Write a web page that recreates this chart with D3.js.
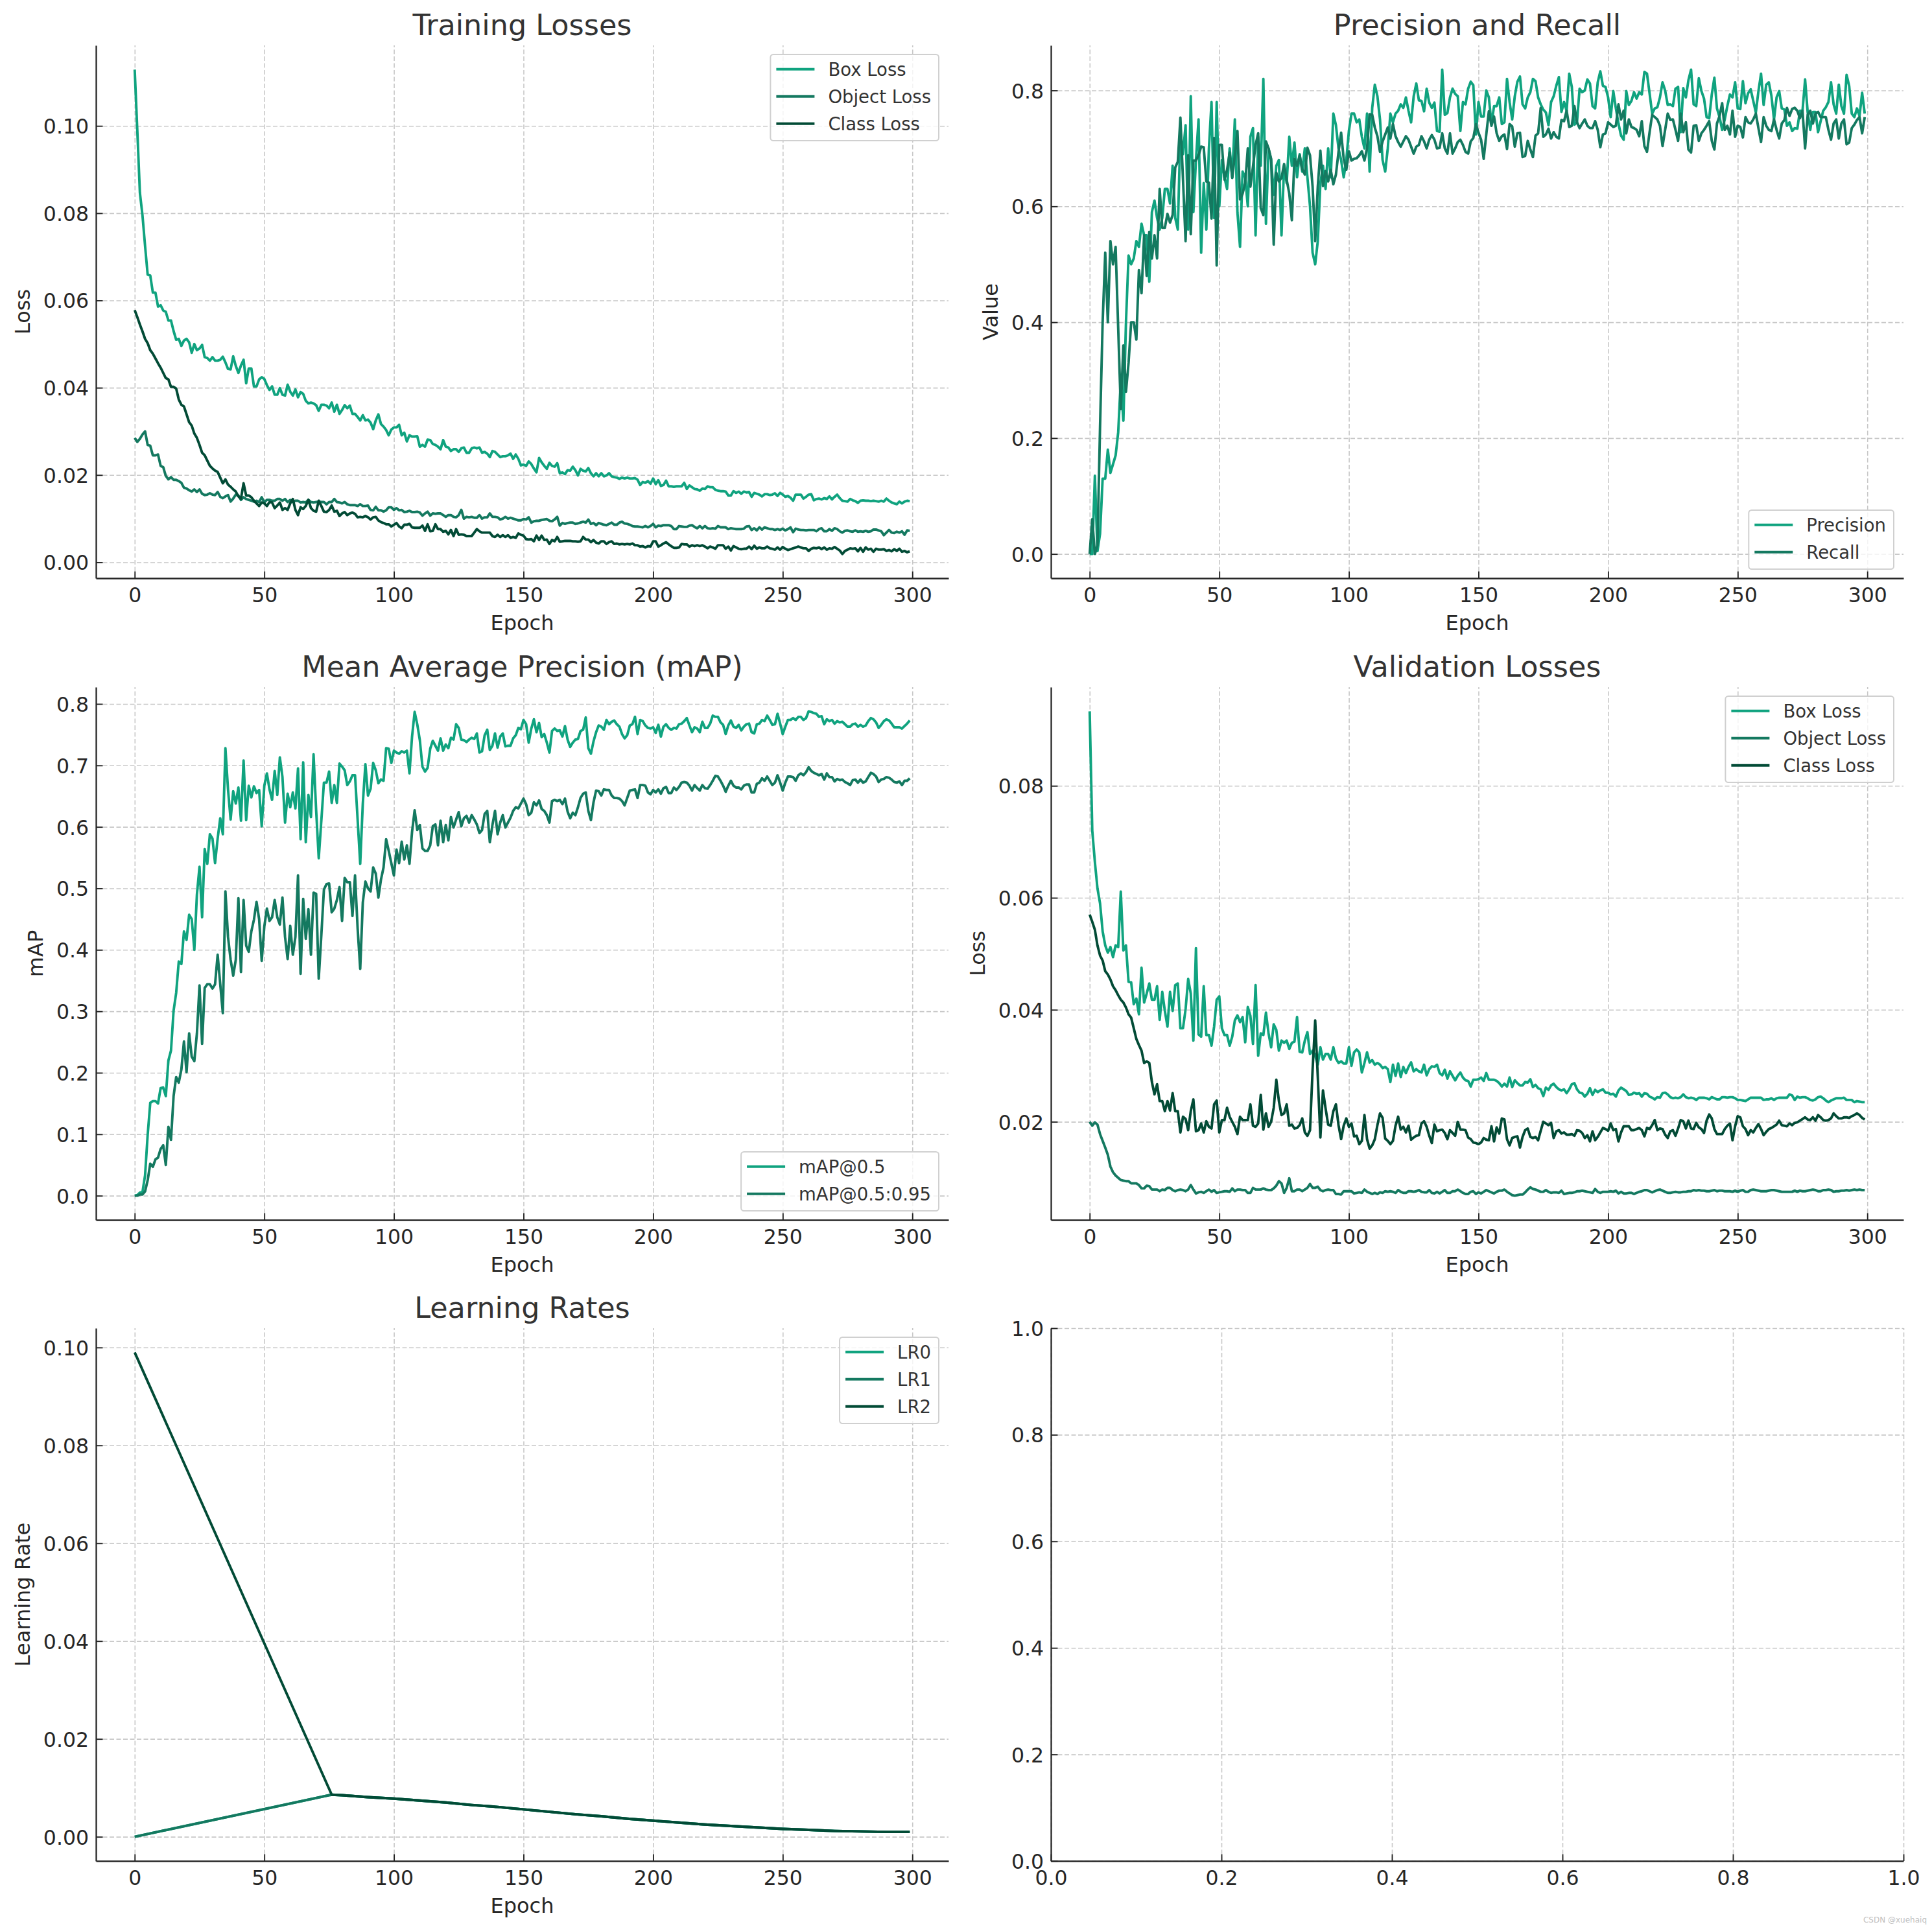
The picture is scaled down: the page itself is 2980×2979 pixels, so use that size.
<!DOCTYPE html>
<html><head><meta charset="utf-8">
<script src="https://cdn.jsdelivr.net/npm/d3@7"></script>
<style>html,body{margin:0;padding:0;background:#fff;} svg{display:block;}</style>
</head><body>
<svg id="chart" width="2980" height="2979" xmlns="http://www.w3.org/2000/svg"></svg>
<script>
// ---------------- DATA ----------------
const epochs = d3.range(0, 300);

const trainBoxLoss = [
0.1129,0.099,0.0847,0.0795,0.0725,0.0659,0.0657,0.0618,0.0618,0.0586,
0.0589,0.0577,0.0574,0.0554,0.0554,0.053,0.051,0.0512,0.0496,0.0508,
0.0512,0.0504,0.048,0.050,0.0486,0.049,0.0498,0.047,0.0468,0.0462,
0.047,0.0462,0.0462,0.0464,0.0471,0.0458,0.0443,0.0442,0.0472,0.045,
0.0434,0.0451,0.0464,0.041,0.0444,0.0444,0.0403,0.0403,0.0419,0.0424,
0.042,0.0406,0.0395,0.0403,0.0384,0.0384,0.0399,0.0384,0.0382,0.0407,
0.0391,0.0382,0.0396,0.0378,0.039,0.0386,0.037,0.0364,0.0366,0.0364,
0.036,0.0347,0.0361,0.0361,0.0359,0.0353,0.0366,0.0345,0.0361,0.034,
0.0349,0.036,0.0353,0.0359,0.034,0.034,0.0333,0.0325,0.0337,0.0325,
0.0327,0.032,0.0305,0.0325,0.0339,0.0317,0.0311,0.0303,0.0291,0.0304,
0.0309,0.0309,0.0315,0.0291,0.0297,0.0277,0.0291,0.0288,0.0288,0.0289,
0.0265,0.0269,0.0265,0.0281,0.028,0.0271,0.0269,0.0265,0.0259,0.028,
0.0265,0.0263,0.0255,0.0259,0.0259,0.0253,0.0261,0.0263,0.0251,0.0251,
0.0261,0.0263,0.0261,0.0263,0.0251,0.0253,0.0249,0.0241,0.0255,0.0253,
0.0247,0.0241,0.0243,0.0243,0.0245,0.0249,0.0237,0.0247,0.0237,0.0222,
0.0224,0.0221,0.0231,0.0225,0.0215,0.0206,0.0239,0.0229,0.0221,0.0214,
0.0228,0.0221,0.0219,0.0227,0.0204,0.0206,0.0202,0.0211,0.021,0.0219,
0.0211,0.0199,0.0214,0.021,0.0208,0.0216,0.0204,0.0197,0.0204,0.0197,
0.0204,0.0197,0.0199,0.0204,0.0197,0.0195,0.0194,0.0191,0.0194,0.0192,
0.0194,0.0192,0.0192,0.0193,0.0189,0.0177,0.0184,0.0182,0.0186,0.018,
0.0192,0.0179,0.0188,0.0175,0.0177,0.0187,0.0174,0.0174,0.0173,0.0174,
0.0174,0.0174,0.0182,0.0168,0.0176,0.0172,0.0168,0.0167,0.0164,0.0169,
0.0168,0.0174,0.0172,0.0172,0.0166,0.0164,0.0163,0.0163,0.0162,0.0153,
0.0153,0.0163,0.0159,0.0162,0.0157,0.0162,0.016,0.0161,0.015,0.0159,
0.0157,0.0155,0.0151,0.0156,0.0156,0.0154,0.0155,0.0158,0.0152,0.0159,
0.0155,0.015,0.0152,0.0148,0.0141,0.0155,0.0155,0.0155,0.0146,0.015,
0.0155,0.0156,0.0142,0.0145,0.0146,0.0144,0.0147,0.0145,0.0151,0.0144,
0.015,0.0155,0.0147,0.0141,0.014,0.0139,0.0145,0.0142,0.014,0.0136,
0.0141,0.0142,0.0141,0.0141,0.014,0.0141,0.014,0.0139,0.0141,0.0139,
0.0146,0.0141,0.0137,0.0135,0.0133,0.0139,0.0135,0.0139,0.0141,0.014];

const trainObjLoss = [
0.0285,0.0276,0.0283,0.0293,0.030,0.0269,0.0267,0.0245,0.0245,0.0247,
0.0221,0.0218,0.0198,0.019,0.0195,0.0189,0.0189,0.0186,0.0182,0.0171,
0.0169,0.0165,0.0162,0.0167,0.0161,0.0167,0.0157,0.0154,0.0155,0.0158,
0.0155,0.0154,0.0161,0.015,0.0147,0.0151,0.0154,0.0139,0.0146,0.0155,
0.0153,0.0143,0.0149,0.0145,0.0143,0.0141,0.0139,0.0141,0.0138,0.0149,
0.0137,0.0143,0.0143,0.0141,0.0141,0.0145,0.0145,0.0141,0.0145,0.0138,
0.0143,0.0138,0.0141,0.0141,0.0137,0.0138,0.0137,0.0143,0.0138,0.0137,
0.0138,0.0139,0.0138,0.0138,0.0133,0.0138,0.0138,0.0145,0.0138,0.0137,
0.0135,0.0138,0.0133,0.0131,0.0131,0.0131,0.0129,0.0133,0.0129,0.0129,
0.013,0.012,0.0119,0.0127,0.0119,0.0119,0.0116,0.0119,0.0126,0.0126,
0.012,0.0124,0.0119,0.012,0.0115,0.0116,0.0118,0.0115,0.0115,0.0116,
0.0114,0.0107,0.0112,0.0116,0.0107,0.0112,0.0111,0.0112,0.0112,0.0108,
0.0104,0.0108,0.0108,0.0104,0.0103,0.0108,0.012,0.01,0.0104,0.0103,
0.0104,0.0102,0.0102,0.0108,0.01,0.0103,0.0103,0.0112,0.0104,0.0104,
0.0103,0.0098,0.01,0.0104,0.01,0.0102,0.01,0.0098,0.0096,0.0096,
0.0099,0.0098,0.0103,0.0091,0.0094,0.0095,0.0095,0.0097,0.0098,0.0099,
0.0095,0.0094,0.0098,0.0104,0.0084,0.009,0.0088,0.009,0.0091,0.0091,
0.0088,0.0089,0.0091,0.0093,0.0091,0.0098,0.0088,0.009,0.0085,0.009,
0.0088,0.0086,0.0085,0.0088,0.0091,0.0086,0.0086,0.0091,0.0093,0.0089,
0.0088,0.0086,0.0083,0.0082,0.0082,0.0081,0.008,0.0083,0.008,0.0083,
0.0088,0.008,0.0084,0.0083,0.0085,0.0085,0.0085,0.0083,0.0076,0.0076,
0.0083,0.0082,0.0081,0.0081,0.0084,0.0085,0.0081,0.0078,0.0083,0.0078,
0.0083,0.0078,0.0077,0.0078,0.0077,0.0083,0.008,0.008,0.008,0.0076,
0.0078,0.0077,0.0076,0.0076,0.0076,0.0077,0.0082,0.0083,0.0074,0.0078,
0.0073,0.008,0.0075,0.008,0.0078,0.0076,0.0076,0.0074,0.0076,0.0074,
0.0077,0.0073,0.0076,0.008,0.0069,0.0077,0.0075,0.0074,0.0074,0.0073,
0.0074,0.0074,0.0074,0.0071,0.0076,0.0078,0.0071,0.0071,0.0076,0.0072,
0.0078,0.0076,0.0071,0.0068,0.0072,0.0073,0.0071,0.007,0.0073,0.007,
0.0071,0.007,0.0072,0.007,0.0071,0.0075,0.0075,0.0073,0.0071,0.0062,
0.0068,0.0074,0.0068,0.0067,0.007,0.0068,0.0071,0.0063,0.0073,0.0072];

const trainClsLoss = [
0.0578,0.0562,0.0545,0.0529,0.0512,0.0502,0.0486,0.0478,0.0467,0.0456,
0.0446,0.0434,0.0422,0.0419,0.0402,0.0402,0.0398,0.0373,0.0361,0.0357,
0.0339,0.0321,0.0313,0.0295,0.0285,0.0269,0.0251,0.0245,0.0233,0.0221,
0.0215,0.021,0.0207,0.0194,0.0181,0.019,0.0178,0.0173,0.0167,0.0162,
0.0151,0.0146,0.0181,0.0153,0.0153,0.0149,0.0141,0.0135,0.0129,0.0137,
0.0135,0.0129,0.0138,0.0137,0.0124,0.013,0.0137,0.012,0.0124,0.012,
0.0135,0.0145,0.012,0.0108,0.0126,0.0122,0.0129,0.0143,0.0124,0.0118,
0.0116,0.0141,0.0129,0.0116,0.0115,0.012,0.013,0.0116,0.0118,0.0106,
0.0112,0.0115,0.0108,0.0112,0.0114,0.0111,0.0103,0.0104,0.0103,0.0106,
0.0103,0.0098,0.0103,0.0104,0.0096,0.0092,0.009,0.0087,0.0087,0.0082,
0.0086,0.009,0.0082,0.0078,0.0086,0.0086,0.0088,0.008,0.0079,0.0079,
0.0079,0.0084,0.0072,0.0087,0.0071,0.0072,0.0087,0.0076,0.0076,0.007,
0.0072,0.0064,0.0074,0.006,0.0076,0.0063,0.0064,0.0063,0.006,0.006,
0.006,0.0068,0.0076,0.0071,0.0068,0.0068,0.0068,0.0068,0.006,0.0058,
0.0063,0.0058,0.0062,0.0058,0.0062,0.0056,0.0058,0.0056,0.0066,0.0063,
0.0061,0.0053,0.0052,0.0053,0.0048,0.0061,0.0051,0.0061,0.0051,0.0052,
0.0042,0.0051,0.0048,0.0058,0.0047,0.0048,0.0049,0.0049,0.0049,0.0048,
0.0048,0.0047,0.0048,0.0058,0.0052,0.0052,0.0046,0.0051,0.0045,0.0043,
0.0048,0.0048,0.0042,0.0046,0.0048,0.0042,0.0043,0.0041,0.0042,0.0041,
0.0042,0.0041,0.0043,0.0039,0.0039,0.0036,0.0037,0.0034,0.0037,0.0036,
0.0048,0.0048,0.0036,0.0039,0.0043,0.0046,0.0041,0.0037,0.0033,0.0033,
0.0034,0.0042,0.0041,0.0041,0.0036,0.0039,0.0037,0.0039,0.0037,0.0039,
0.0036,0.0032,0.0036,0.0034,0.0031,0.0039,0.0039,0.0039,0.0031,0.0036,
0.0027,0.0037,0.0034,0.0031,0.003,0.0031,0.0031,0.0036,0.003,0.0038,
0.0031,0.0034,0.0032,0.0032,0.0036,0.0032,0.0031,0.0029,0.0034,0.0029,
0.0035,0.0031,0.0028,0.003,0.0032,0.0034,0.0036,0.0034,0.0032,0.0032,
0.0026,0.0031,0.0033,0.0032,0.0034,0.003,0.0034,0.0029,0.0032,0.0031,
0.0035,0.0031,0.0027,0.0019,0.0026,0.0029,0.0032,0.0031,0.0032,0.0025,
0.0033,0.0024,0.0034,0.0029,0.0031,0.0024,0.0031,0.0029,0.0029,0.003,
0.0026,0.0028,0.0025,0.003,0.0026,0.0031,0.0024,0.0026,0.0023,0.0025];

const precision = [
0,0,0.135,0.005,0.035,0.13,0.13,0.18,0.14,0.155,
0.17,0.21,0.30,0.23,0.40,0.515,0.50,0.51,0.54,0.53,
0.57,0.55,0.55,0.47,0.59,0.61,0.58,0.56,0.58,0.63,
0.63,0.605,0.67,0.58,0.56,0.73,0.69,0.74,0.56,0.79,
0.59,0.68,0.75,0.52,0.64,0.56,0.70,0.78,0.58,0.78,
0.60,0.68,0.65,0.63,0.70,0.65,0.75,0.59,0.53,0.66,
0.65,0.60,0.72,0.735,0.55,0.72,0.67,0.82,0.57,0.70,
0.68,0.62,0.67,0.68,0.55,0.67,0.64,0.72,0.67,0.71,
0.65,0.69,0.66,0.70,0.65,0.60,0.52,0.50,0.54,0.64,
0.67,0.63,0.70,0.65,0.76,0.74,0.70,0.68,0.65,0.68,
0.73,0.76,0.76,0.745,0.75,0.72,0.70,0.76,0.66,0.77,
0.81,0.79,0.75,0.68,0.66,0.70,0.76,0.745,0.76,0.765,
0.776,0.77,0.788,0.765,0.745,0.79,0.812,0.783,0.782,0.764,
0.803,0.779,0.77,0.779,0.73,0.729,0.836,0.758,0.761,0.788,
0.803,0.794,0.79,0.73,0.78,0.776,0.803,0.815,0.809,0.724,
0.78,0.755,0.755,0.80,0.788,0.742,0.773,0.773,0.788,0.742,
0.745,0.82,0.78,0.75,0.79,0.815,0.824,0.776,0.769,0.788,
0.797,0.82,0.816,0.788,0.776,0.767,0.762,0.74,0.78,0.79,
0.808,0.823,0.763,0.78,0.765,0.829,0.806,0.741,0.745,0.803,
0.797,0.80,0.819,0.812,0.773,0.769,0.814,0.833,0.808,0.806,
0.788,0.754,0.799,0.769,0.743,0.722,0.715,0.799,0.775,0.782,
0.797,0.786,0.797,0.793,0.832,0.829,0.795,0.76,0.769,0.771,
0.788,0.814,0.80,0.775,0.776,0.773,0.803,0.806,0.728,0.804,
0.788,0.818,0.836,0.776,0.773,0.821,0.799,0.786,0.754,0.752,
0.793,0.822,0.769,0.754,0.732,0.75,0.773,0.793,0.788,0.814,
0.769,0.768,0.816,0.778,0.795,0.802,0.782,0.762,0.799,0.829,
0.775,0.81,0.814,0.791,0.75,0.788,0.799,0.769,0.767,0.739,
0.745,0.73,0.735,0.734,0.765,0.765,0.819,0.762,0.732,0.763,
0.763,0.728,0.747,0.765,0.771,0.78,0.814,0.776,0.76,0.81,
0.773,0.76,0.827,0.808,0.76,0.754,0.769,0.756,0.796,0.76];

const recall = [
0,0.06,0.0,0.015,0.22,0.40,0.52,0.40,0.54,0.50,
0.53,0.39,0.25,0.36,0.28,0.33,0.40,0.40,0.37,0.49,
0.45,0.55,0.48,0.556,0.51,0.55,0.51,0.63,0.563,0.563,
0.587,0.572,0.585,0.667,0.677,0.753,0.646,0.54,0.688,0.552,
0.679,0.679,0.688,0.703,0.702,0.643,0.641,0.579,0.718,0.498,
0.706,0.706,0.646,0.663,0.693,0.649,0.688,0.73,0.612,0.622,
0.64,0.70,0.634,0.669,0.706,0.726,0.597,0.585,0.712,0.70,
0.682,0.534,0.658,0.643,0.649,0.673,0.646,0.622,0.576,0.682,
0.67,0.688,0.664,0.655,0.701,0.688,0.634,0.54,0.634,0.696,
0.635,0.661,0.643,0.663,0.638,0.655,0.694,0.727,0.682,0.663,
0.695,0.679,0.682,0.683,0.688,0.695,0.679,0.70,0.759,0.758,
0.736,0.721,0.694,0.712,0.724,0.736,0.717,0.742,0.721,0.711,
0.703,0.712,0.721,0.715,0.703,0.691,0.703,0.706,0.721,0.712,
0.70,0.715,0.723,0.715,0.70,0.701,0.726,0.70,0.691,0.726,
0.691,0.70,0.711,0.715,0.706,0.694,0.691,0.712,0.718,0.742,
0.727,0.715,0.682,0.724,0.764,0.739,0.755,0.726,0.713,0.721,
0.724,0.699,0.742,0.738,0.703,0.726,0.727,0.685,0.687,0.713,
0.698,0.685,0.722,0.726,0.77,0.72,0.724,0.734,0.717,0.728,
0.72,0.717,0.749,0.747,0.765,0.737,0.739,0.773,0.745,0.735,
0.743,0.75,0.739,0.735,0.735,0.747,0.732,0.702,0.724,0.726,
0.745,0.741,0.737,0.739,0.776,0.75,0.765,0.726,0.75,0.737,
0.735,0.732,0.721,0.747,0.704,0.694,0.728,0.758,0.754,0.75,
0.739,0.704,0.732,0.76,0.749,0.75,0.732,0.713,0.76,0.728,
0.745,0.698,0.693,0.739,0.74,0.713,0.726,0.732,0.739,0.747,
0.713,0.698,0.743,0.756,0.778,0.732,0.739,0.724,0.765,0.72,
0.739,0.737,0.719,0.754,0.745,0.743,0.75,0.76,0.735,0.711,
0.754,0.739,0.732,0.73,0.75,0.732,0.717,0.743,0.749,0.77,
0.756,0.768,0.77,0.765,0.752,0.765,0.70,0.758,0.765,0.743,
0.76,0.763,0.754,0.754,0.754,0.732,0.715,0.743,0.75,0.717,
0.743,0.75,0.707,0.71,0.735,0.741,0.749,0.754,0.726,0.754];

const map50 = [
0,0.001,0.005,0.006,0.033,0.099,0.151,0.154,0.154,0.15,
0.175,0.176,0.162,0.22,0.236,0.301,0.33,0.381,0.377,0.43,
0.416,0.457,0.45,0.40,0.49,0.535,0.453,0.564,0.54,0.588,
0.581,0.541,0.581,0.614,0.588,0.728,0.661,0.612,0.658,0.638,
0.664,0.61,0.708,0.611,0.667,0.648,0.666,0.655,0.66,0.601,
0.667,0.687,0.661,0.644,0.691,0.652,0.713,0.681,0.607,0.654,
0.632,0.656,0.63,0.695,0.58,0.705,0.575,0.652,0.616,0.718,
0.627,0.549,0.61,0.672,0.672,0.69,0.639,0.668,0.639,0.703,
0.698,0.692,0.668,0.674,0.684,0.684,0.612,0.54,0.638,0.702,
0.651,0.662,0.704,0.692,0.671,0.677,0.675,0.728,0.727,0.704,
0.724,0.721,0.719,0.723,0.721,0.724,0.687,0.747,0.787,0.767,
0.741,0.698,0.69,0.696,0.727,0.74,0.732,0.724,0.744,0.724,
0.734,0.728,0.745,0.742,0.767,0.761,0.742,0.741,0.738,0.742,
0.745,0.743,0.752,0.721,0.723,0.749,0.758,0.725,0.732,0.752,
0.729,0.747,0.752,0.731,0.732,0.732,0.744,0.749,0.761,0.759,
0.774,0.767,0.737,0.76,0.775,0.754,0.769,0.746,0.751,0.737,
0.721,0.756,0.76,0.756,0.757,0.747,0.764,0.742,0.73,0.737,
0.742,0.743,0.756,0.758,0.778,0.728,0.719,0.739,0.754,0.765,
0.763,0.758,0.774,0.767,0.771,0.773,0.767,0.763,0.751,0.744,
0.749,0.765,0.767,0.779,0.751,0.774,0.772,0.765,0.761,0.76,
0.762,0.753,0.766,0.747,0.763,0.767,0.761,0.758,0.761,0.76,
0.767,0.768,0.772,0.777,0.765,0.754,0.762,0.76,0.754,0.771,
0.761,0.761,0.768,0.781,0.779,0.779,0.77,0.766,0.751,0.765,
0.773,0.763,0.761,0.766,0.757,0.763,0.767,0.768,0.754,0.752,
0.767,0.768,0.774,0.772,0.781,0.774,0.766,0.767,0.784,0.768,
0.751,0.763,0.774,0.774,0.777,0.774,0.779,0.779,0.774,0.777,
0.788,0.787,0.785,0.784,0.779,0.78,0.767,0.775,0.772,0.774,
0.768,0.772,0.77,0.771,0.767,0.763,0.763,0.767,0.768,0.763,
0.766,0.763,0.765,0.772,0.777,0.775,0.77,0.761,0.766,0.772,
0.775,0.773,0.768,0.762,0.762,0.762,0.76,0.764,0.768,0.773];

const map5095 = [
0,0,0.002,0.002,0.007,0.025,0.052,0.047,0.059,0.062,
0.076,0.082,0.05,0.112,0.091,0.162,0.193,0.184,0.205,0.251,
0.201,0.264,0.226,0.219,0.264,0.342,0.247,0.338,0.344,0.344,
0.337,0.344,0.392,0.344,0.297,0.495,0.421,0.384,0.358,0.384,
0.484,0.364,0.481,0.407,0.397,0.43,0.449,0.478,0.45,0.382,
0.438,0.467,0.447,0.453,0.481,0.453,0.441,0.485,0.421,0.385,
0.439,0.392,0.421,0.521,0.361,0.483,0.418,0.466,0.392,0.493,
0.491,0.353,0.424,0.498,0.507,0.508,0.461,0.467,0.481,0.502,
0.447,0.517,0.51,0.51,0.455,0.521,0.435,0.369,0.477,0.511,
0.50,0.495,0.534,0.524,0.485,0.514,0.534,0.58,0.561,0.541,
0.521,0.563,0.541,0.576,0.547,0.57,0.54,0.592,0.627,0.595,
0.603,0.565,0.561,0.561,0.57,0.601,0.604,0.57,0.61,0.575,
0.603,0.578,0.616,0.599,0.612,0.624,0.601,0.614,0.618,0.607,
0.619,0.612,0.604,0.59,0.595,0.621,0.626,0.575,0.603,0.626,
0.588,0.607,0.619,0.599,0.607,0.615,0.626,0.632,0.63,0.638,
0.646,0.637,0.619,0.623,0.64,0.635,0.643,0.629,0.626,0.619,
0.607,0.642,0.644,0.642,0.644,0.637,0.646,0.625,0.614,0.623,
0.619,0.632,0.647,0.654,0.656,0.626,0.611,0.64,0.659,0.658,
0.651,0.661,0.66,0.66,0.651,0.647,0.647,0.646,0.642,0.635,
0.647,0.659,0.66,0.661,0.647,0.668,0.668,0.667,0.656,0.653,
0.66,0.656,0.661,0.654,0.663,0.665,0.655,0.655,0.664,0.66,
0.665,0.672,0.673,0.672,0.667,0.659,0.668,0.663,0.659,0.668,
0.663,0.662,0.668,0.675,0.683,0.682,0.675,0.667,0.657,0.667,
0.675,0.667,0.664,0.664,0.661,0.667,0.669,0.669,0.656,0.656,
0.67,0.672,0.679,0.675,0.682,0.675,0.668,0.672,0.684,0.672,
0.659,0.672,0.682,0.682,0.681,0.675,0.684,0.687,0.684,0.689,
0.697,0.691,0.688,0.686,0.684,0.686,0.677,0.687,0.681,0.681,
0.674,0.678,0.676,0.677,0.673,0.671,0.668,0.676,0.677,0.672,
0.677,0.672,0.674,0.681,0.688,0.686,0.682,0.673,0.677,0.678,
0.681,0.68,0.677,0.673,0.672,0.674,0.668,0.675,0.675,0.679];

const valBoxLoss = [
0.0933,0.072,0.0664,0.0617,0.059,0.054,0.0515,0.0502,0.0512,0.0494,
0.0515,0.0512,0.0611,0.0506,0.0515,0.045,0.0449,0.041,0.042,0.0392,
0.0475,0.0413,0.0429,0.0447,0.0418,0.0418,0.0442,0.0382,0.0432,0.0398,
0.037,0.0432,0.0398,0.0444,0.0447,0.0367,0.0367,0.0401,0.0455,0.0429,
0.0345,0.051,0.0356,0.0352,0.0442,0.0355,0.0355,0.0336,0.037,0.0418,
0.0424,0.0367,0.0355,0.0355,0.0336,0.0352,0.0381,0.039,0.0378,0.0387,
0.0342,0.0405,0.0389,0.0339,0.0444,0.0318,0.0358,0.0355,0.0395,0.0358,
0.0333,0.0374,0.0364,0.0327,0.0345,0.0341,0.0345,0.033,0.0341,0.0343,
0.0387,0.0325,0.0324,0.0345,0.036,0.0321,0.0327,0.0318,0.0302,0.0333,
0.0311,0.0321,0.0321,0.0311,0.0333,0.0313,0.0305,0.0308,0.0304,0.0304,
0.0333,0.03,0.0324,0.0329,0.0324,0.0288,0.0305,0.0324,0.0306,0.031,
0.0302,0.0305,0.0302,0.0296,0.0298,0.0294,0.0271,0.0302,0.0282,0.0304,
0.028,0.0298,0.0287,0.0298,0.0306,0.029,0.0294,0.029,0.0288,0.0302,
0.0283,0.0294,0.0299,0.0298,0.0302,0.0287,0.0283,0.0293,0.0277,0.029,
0.0282,0.0274,0.0282,0.0288,0.0279,0.0274,0.0273,0.0263,0.0275,0.0275,
0.0276,0.0279,0.0273,0.0287,0.0275,0.0275,0.0275,0.0273,0.0269,0.0263,
0.0268,0.0263,0.0279,0.0262,0.0274,0.0269,0.0265,0.0265,0.0271,0.027,
0.0276,0.0262,0.0266,0.026,0.0258,0.0246,0.0261,0.0257,0.0265,0.0268,
0.0262,0.0258,0.0256,0.0258,0.0251,0.0258,0.0267,0.0269,0.0258,0.0252,
0.0251,0.0245,0.025,0.026,0.0248,0.0257,0.0253,0.0256,0.0258,0.0252,
0.0252,0.0249,0.025,0.0245,0.0256,0.0261,0.0258,0.0255,0.0248,0.0249,
0.0252,0.025,0.0251,0.0245,0.0251,0.025,0.0245,0.0243,0.024,0.0244,
0.0243,0.0251,0.0252,0.0249,0.0244,0.0242,0.0243,0.0242,0.0244,0.0249,
0.0244,0.0242,0.0243,0.0242,0.0239,0.0243,0.0243,0.0243,0.0242,0.024,
0.0244,0.0242,0.024,0.024,0.0244,0.0244,0.0243,0.0244,0.0244,0.0242,
0.0239,0.0239,0.0238,0.0237,0.024,0.0243,0.0243,0.0243,0.0243,0.0243,
0.0239,0.024,0.024,0.0242,0.0239,0.0242,0.0243,0.0243,0.0243,0.0243,
0.0249,0.0247,0.0239,0.0245,0.0243,0.0244,0.0244,0.0242,0.0239,0.0238,
0.024,0.0244,0.0245,0.0242,0.0238,0.0235,0.0238,0.024,0.0242,0.0242,
0.0242,0.0243,0.0239,0.0239,0.0239,0.0235,0.0237,0.0236,0.0235,0.0235];

const valObjLoss = [
0.02,0.0193,0.0199,0.0195,0.0178,0.0166,0.0154,0.0141,0.012,0.011,
0.0104,0.01,0.0096,0.0095,0.0094,0.0094,0.009,0.009,0.009,0.0087,
0.0081,0.0081,0.0086,0.0085,0.0079,0.0079,0.0079,0.0076,0.0079,0.0078,
0.0082,0.0082,0.0078,0.0076,0.0078,0.0079,0.0078,0.0076,0.0079,0.0087,
0.0079,0.0072,0.0074,0.0075,0.0073,0.0076,0.0079,0.0075,0.0078,0.0073,
0.0074,0.0075,0.0076,0.0076,0.0075,0.0081,0.0076,0.0079,0.0079,0.0078,
0.0078,0.0073,0.0073,0.0082,0.0079,0.0079,0.0079,0.0081,0.0079,0.0078,
0.0078,0.0081,0.0086,0.0094,0.009,0.0073,0.0082,0.0099,0.0076,0.0076,
0.0079,0.0079,0.0076,0.0079,0.0082,0.0089,0.0082,0.0082,0.0084,0.0078,
0.0076,0.0078,0.0079,0.0078,0.0078,0.0071,0.0071,0.007,0.0076,0.0076,
0.0076,0.0076,0.0072,0.0073,0.0074,0.0073,0.0079,0.0075,0.0073,0.0071,
0.0073,0.0071,0.0074,0.0073,0.0076,0.0075,0.0076,0.0075,0.0073,0.0078,
0.0075,0.0073,0.0073,0.0076,0.0076,0.0075,0.0076,0.0078,0.0075,0.0074,
0.0074,0.0078,0.0073,0.0072,0.0075,0.0072,0.0075,0.0078,0.0073,0.0073,
0.0076,0.0076,0.0079,0.0076,0.0073,0.0071,0.0071,0.0075,0.0076,0.0071,
0.0074,0.0072,0.0075,0.0078,0.0076,0.0074,0.0072,0.0075,0.0077,0.0077,
0.0079,0.0075,0.0072,0.0069,0.0068,0.0069,0.007,0.007,0.0074,0.0079,
0.0083,0.008,0.0079,0.0077,0.0075,0.0075,0.0078,0.0075,0.0073,0.0074,
0.0074,0.0073,0.0077,0.0071,0.0072,0.0073,0.0073,0.0074,0.0076,0.0076,
0.0077,0.0076,0.0075,0.0074,0.0073,0.008,0.0075,0.0073,0.0075,0.0075,
0.0075,0.0076,0.0075,0.0077,0.0072,0.0075,0.0072,0.0072,0.0073,0.0073,
0.0071,0.0073,0.0075,0.0076,0.0078,0.0078,0.0076,0.0074,0.0076,0.0078,
0.0079,0.0077,0.0075,0.0073,0.0073,0.0074,0.0075,0.0074,0.0074,0.0075,
0.0075,0.0076,0.0076,0.0078,0.0077,0.0078,0.0077,0.0077,0.0076,0.0076,
0.0077,0.0078,0.0076,0.0077,0.0077,0.0076,0.0076,0.0076,0.0075,0.0077,
0.0075,0.0077,0.0078,0.0075,0.0075,0.0078,0.0079,0.0078,0.0077,0.0076,
0.0076,0.0076,0.0077,0.0078,0.0078,0.0077,0.0076,0.0075,0.0075,0.0075,
0.0075,0.0075,0.0077,0.0075,0.0077,0.0076,0.0076,0.0077,0.0078,0.0079,
0.0078,0.0076,0.0076,0.0078,0.0078,0.0079,0.0078,0.0075,0.0076,0.0076,
0.0077,0.0077,0.0078,0.0077,0.0078,0.0079,0.0078,0.0079,0.0078,0.0078];

const valClsLoss = [
0.057,0.0557,0.0543,0.0515,0.0497,0.0488,0.0469,0.0463,0.0454,0.0442,
0.0435,0.0426,0.0418,0.0413,0.0404,0.0392,0.0386,0.0367,0.0348,0.0337,
0.0327,0.0305,0.0308,0.0305,0.0271,0.0249,0.0267,0.0237,0.0237,0.0219,
0.0237,0.022,0.0251,0.0219,0.0219,0.0181,0.0209,0.0205,0.0185,0.0219,
0.024,0.0183,0.0185,0.0197,0.0181,0.0201,0.0191,0.0188,0.0231,0.0238,
0.0181,0.0203,0.0203,0.0225,0.0209,0.02,0.0191,0.0178,0.0209,0.0203,
0.0203,0.0203,0.0231,0.0193,0.0191,0.0197,0.0248,0.0186,0.0215,0.0191,
0.02,0.0225,0.0275,0.0237,0.0212,0.0215,0.0231,0.0193,0.0195,0.0188,
0.0189,0.0194,0.0206,0.0181,0.0175,0.0185,0.0293,0.0381,0.028,0.0172,
0.0256,0.0224,0.0195,0.0193,0.0219,0.0231,0.0194,0.0169,0.0193,0.0206,
0.0191,0.0197,0.0174,0.0175,0.016,0.0166,0.0212,0.0169,0.0152,0.0158,
0.0169,0.0194,0.0215,0.0207,0.017,0.0166,0.016,0.0166,0.0193,0.0209,
0.0186,0.0191,0.0181,0.0193,0.0168,0.0172,0.0175,0.0176,0.0197,0.0201,
0.0191,0.0175,0.0162,0.0195,0.0183,0.0185,0.0186,0.018,0.0169,0.0185,
0.018,0.0175,0.02,0.0186,0.0186,0.0185,0.0172,0.0169,0.0163,0.0162,
0.016,0.0163,0.0171,0.0168,0.0167,0.0192,0.0165,0.019,0.0179,0.0206,
0.0204,0.0169,0.0158,0.0171,0.0173,0.0174,0.0154,0.0173,0.0185,0.0188,
0.0173,0.0171,0.0173,0.0167,0.0184,0.02,0.0197,0.0194,0.0198,0.0171,
0.0183,0.0185,0.0179,0.0181,0.0177,0.0177,0.0178,0.0175,0.0185,0.0184,
0.018,0.0171,0.0176,0.0165,0.0183,0.0167,0.0173,0.0181,0.0189,0.0187,
0.0184,0.0197,0.0185,0.0187,0.0165,0.0181,0.0192,0.0192,0.0192,0.0185,
0.0185,0.0187,0.0189,0.0185,0.0174,0.0189,0.0187,0.0194,0.0203,0.0185,
0.0188,0.0187,0.0177,0.0171,0.0183,0.0185,0.0175,0.0188,0.0203,0.0201,
0.0188,0.0202,0.0188,0.0187,0.0198,0.019,0.0187,0.018,0.0202,0.0213,
0.0206,0.0187,0.0178,0.0178,0.0178,0.0187,0.0193,0.0197,0.0167,0.0192,
0.021,0.0208,0.0192,0.0187,0.0176,0.0185,0.0181,0.0189,0.0196,0.0187,
0.0176,0.0182,0.0187,0.0189,0.0192,0.0195,0.0202,0.0194,0.0193,0.0192,
0.0197,0.0194,0.0198,0.0199,0.0202,0.0205,0.0208,0.0204,0.0203,0.0208,
0.0202,0.0212,0.0208,0.0203,0.0202,0.0203,0.0206,0.0215,0.021,0.0206,
0.0206,0.0208,0.0208,0.0207,0.021,0.0212,0.0215,0.0212,0.0207,0.0204];

const lrEpochs = [0,76,80,90,100,110,120,130,140,150,160,170,180,190,200,210,220,230,240,250,260,270,280,290,299];
const lr0 = [0,0.0086,0.0085,0.0081,0.0078,0.0074,0.0070,0.0065,0.0061,0.0056,0.0051,0.0046,0.0042,0.0037,0.0033,0.0029,0.0025,0.0022,0.0019,0.0016,0.0014,0.0012,0.0011,0.0010,0.0010];
const lr1 = [0,0.0086,0.0085,0.0081,0.0078,0.0074,0.0070,0.0065,0.0061,0.0056,0.0051,0.0046,0.0042,0.0037,0.0033,0.0029,0.0025,0.0022,0.0019,0.0016,0.0014,0.0012,0.0011,0.0010,0.0010];
const lr2 = [0.099,0.0086,0.0085,0.0081,0.0078,0.0074,0.0070,0.0065,0.0061,0.0056,0.0051,0.0046,0.0042,0.0037,0.0033,0.0029,0.0025,0.0022,0.0019,0.0016,0.0014,0.0012,0.0011,0.0010,0.0010];

// tick values
const epochTicks = [0,50,100,150,200,250,300];
const lossTicks = [0,0.02,0.04,0.06,0.08,0.10];
const prTicks = [0,0.2,0.4,0.6,0.8];
const mapTicks = [0,0.1,0.2,0.3,0.4,0.5,0.6,0.7,0.8];
const valTicks = [0.02,0.04,0.06,0.08];
const lrTicks = [0,0.02,0.04,0.06,0.08,0.10];
const unitTicks = [0,0.2,0.4,0.6,0.8,1.0];

// ---------------- STYLE ----------------
const C1 = '#10a37f', C2 = '#147960', C3 = '#024b36';
const FONT = "'DejaVu Sans', sans-serif";
const TXT = '#262626';
const LAYOUT = {lefts:[148,1621], tops:[70,1060,2049], w:1315, h:822};

const panels = [
  {title:'Training Losses', ylabel:'Loss', col:0, row:0, yTicks:lossTicks, fmt:'.2f', legend:'ur',
   series:[{name:'Box Loss', x:epochs, y:trainBoxLoss, color:C1},
           {name:'Object Loss', x:epochs, y:trainObjLoss, color:C2},
           {name:'Class Loss', x:epochs, y:trainClsLoss, color:C3}]},
  {title:'Precision and Recall', ylabel:'Value', col:1, row:0, yTicks:prTicks, fmt:'.1f', legend:'lr',
   series:[{name:'Precision', x:epochs, y:precision, color:C1},
           {name:'Recall', x:epochs, y:recall, color:C2}]},
  {title:'Mean Average Precision (mAP)', ylabel:'mAP', col:0, row:1, yTicks:mapTicks, fmt:'.1f', legend:'lr',
   series:[{name:'mAP@0.5', x:epochs, y:map50, color:C1},
           {name:'mAP@0.5:0.95', x:epochs, y:map5095, color:C2}]},
  {title:'Validation Losses', ylabel:'Loss', col:1, row:1, yTicks:valTicks, fmt:'.2f', legend:'ur',
   series:[{name:'Box Loss', x:epochs, y:valBoxLoss, color:C1},
           {name:'Object Loss', x:epochs, y:valObjLoss, color:C2},
           {name:'Class Loss', x:epochs, y:valClsLoss, color:C3}]},
  {title:'Learning Rates', ylabel:'Learning Rate', col:0, row:2, yTicks:lrTicks, fmt:'.2f', legend:'ur',
   series:[{name:'LR0', x:lrEpochs, y:lr0, color:C1},
           {name:'LR1', x:lrEpochs, y:lr1, color:C2},
           {name:'LR2', x:lrEpochs, y:lr2, color:C3}]},
  {title:null, ylabel:null, col:1, row:2, empty:true, yTicks:unitTicks, xTicks:unitTicks, fmt:'.1f', series:[]}
];

const svg = d3.select('#chart');
svg.append('rect').attr('width',2980).attr('height',2979).attr('fill','#fff');

function padExt(ext){ const r = ext[1]-ext[0]; return [ext[0]-0.05*r, ext[1]+0.05*r]; }

panels.forEach(drawPanel);

function drawPanel(p){
  const L = LAYOUT.lefts[p.col], T = LAYOUT.tops[p.row], W = LAYOUT.w, H = LAYOUT.h;
  let xd, yd;
  if (p.empty){ xd=[0,1]; yd=[0,1]; }
  else {
    xd = padExt(d3.extent(p.series.flatMap(s=>s.x)));
    yd = padExt(d3.extent(p.series.flatMap(s=>s.y)));
  }
  const x = d3.scaleLinear().domain(xd).range([L, L+W]);
  const y = d3.scaleLinear().domain(yd).range([T+H, T]);
  const inX = v => v >= xd[0]-1e-9 && v <= xd[1]+1e-9;
  const inY = v => v >= yd[0]-1e-9 && v <= yd[1]+1e-9;
  const xt = (p.xTicks || epochTicks).filter(inX);
  const yt = p.yTicks.filter(inY);
  const xfmt = p.empty ? d3.format('.1f') : d3.format('d');
  const yfmt = d3.format(p.fmt);

  const g = svg.append('g');

  // grid
  const gx = g.append('g').attr('transform',`translate(0,${T+H})`)
    .call(d3.axisBottom(x).tickValues(xt).tickSize(-H).tickFormat(''));
  const gy = g.append('g').attr('transform',`translate(${L},0)`)
    .call(d3.axisLeft(y).tickValues(yt).tickSize(-W).tickFormat(''));
  [gx, gy].forEach(a => {
    a.select('.domain').remove();
    a.selectAll('.tick line').attr('stroke','#c8c8c8').attr('stroke-width',1.6)
      .attr('stroke-dasharray','7,3.5');
  });

  // lines
  const line = d3.line().x(d=>x(d[0])).y(d=>y(d[1]));
  p.series.forEach(s => {
    g.append('path').datum(s.x.map((v,i)=>[v, s.y[i]]))
      .attr('d', line).attr('fill','none').attr('stroke', s.color)
      .attr('stroke-width', 3.9).attr('stroke-linejoin','round').attr('stroke-linecap','butt');
  });

  // axes (spines + inward ticks)
  const ax = g.append('g').attr('transform',`translate(0,${T+H})`)
    .call(d3.axisBottom(x).tickValues(xt).tickSizeInner(-10.5).tickSizeOuter(0).tickPadding(14.6).tickFormat(xfmt));
  const ay = g.append('g').attr('transform',`translate(${L},0)`)
    .call(d3.axisLeft(y).tickValues(yt).tickSizeInner(-10.5).tickSizeOuter(0).tickPadding(11).tickFormat(yfmt));
  [ax, ay].forEach(a => {
    a.select('.domain').attr('stroke', TXT).attr('stroke-width', 2.3);
    a.selectAll('.tick line').attr('stroke', TXT).attr('stroke-width', 1.9);
    a.selectAll('.tick text').attr('fill', TXT).attr('font-family', FONT).attr('font-size', 31.5);
  });
  ay.selectAll('.tick text').attr('dy','0.365em');
  ax.attr('font-family', FONT); ay.attr('font-family', FONT);

  let maxW = 0;
  ay.selectAll('.tick text').each(function(){ maxW = Math.max(maxW, this.getComputedTextLength()); });

  if (!p.empty){
    g.append('text').attr('x', L+W/2).attr('y', T+H+80).attr('text-anchor','middle')
      .attr('font-family', FONT).attr('font-size', 32).attr('fill', TXT).text('Epoch');
  }
  if (p.ylabel){
    const bx = L - 11 - maxW - 21;
    g.append('text').attr('transform', `translate(${bx},${T+H/2}) rotate(-90)`)
      .attr('text-anchor','middle').attr('font-family', FONT).attr('font-size', 32)
      .attr('fill', TXT).text(p.ylabel);
  }
  if (p.title){
    g.append('text').attr('x', L+W/2).attr('y', T-16).attr('text-anchor','middle')
      .attr('font-family', FONT).attr('font-size', 44.5).attr('fill', '#333333').text(p.title);
  }
  // legend
  if (p.legend && p.series.length){
    const fs = 27.5, rowH = 42, n = p.series.length;
    const lg = g.append('g');
    const texts = [];
    p.series.forEach((s,i) => {
      texts.push(lg.append('text').attr('font-family', FONT).attr('font-size', fs)
        .attr('fill', '#333333').attr('dy','0.36em').text(s.name));
    });
    let tw = 0; texts.forEach(t => tw = Math.max(tw, t.node().getComputedTextLength()));
    const bw = 9 + 59 + 21 + tw + 12;
    const bh = 22.7 + (n-1)*rowH + 26.3;
    const bxr = L + W - 15;
    const bx0 = bxr - bw;
    const by0 = p.legend === 'ur' ? T + 14 : T + H - 14 - bh;
    lg.insert('rect', ':first-child').attr('x', bx0).attr('y', by0).attr('width', bw).attr('height', bh)
      .attr('rx', 4.5).attr('fill', '#ffffff').attr('fill-opacity', 0.8)
      .attr('stroke', '#d0d0d0').attr('stroke-width', 2);
    p.series.forEach((s,i) => {
      const cy = by0 + 22.7 + i*rowH;
      lg.append('line').attr('x1', bx0+9).attr('x2', bx0+68).attr('y1', cy).attr('y2', cy)
        .attr('stroke', s.color).attr('stroke-width', 3.9);
      texts[i].attr('x', bx0+89).attr('y', cy);
    });
  }
}

// watermark
svg.append('text').attr('x', 2972).attr('y', 2966).attr('text-anchor','end')
  .attr('font-family', FONT).attr('font-size', 12).attr('fill', '#c0c0c0').text('CSDN @xuehaiq');
</script>
</body></html>
